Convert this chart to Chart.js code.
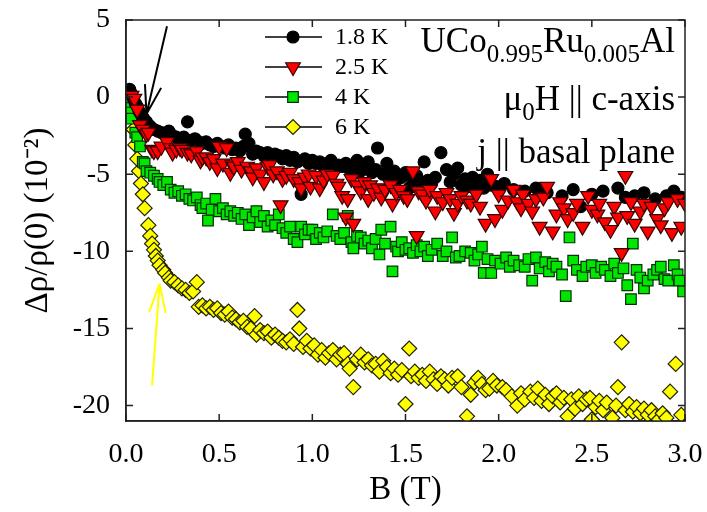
<!DOCTYPE html>
<html>
<head>
<meta charset="utf-8">
<script src="https://cdn.jsdelivr.net/npm/chart.js@4.4.1/dist/chart.umd.min.js"></script>
<style>
  body { margin: 0; background: #fff; }
  #wrap { position: relative; width: 707px; height: 512px; }
  .note {
    position: absolute; right: 32px;
    font-family: "Liberation Serif", "Times New Roman", serif;
    font-size: 35px; line-height: 35px; color: #000; white-space: nowrap;
  }
  .note sub { font-size: 25px; position: relative; top: 10px; vertical-align: baseline; line-height: 0; }
</style>
</head>
<body>
<div id="wrap">
  <canvas id="statsChart" width="707" height="512"></canvas>
  <div class="note" style="top:23px">UCo<sub>0.995</sub>Ru<sub>0.005</sub>Al</div>
  <div class="note" style="top:81px">μ<sub>0</sub>H || c-axis</div>
  <div class="note" style="top:134px">j || basal plane</div>
</div>
<script>
// ===== データ (B [T], Δρ/ρ(0) [10^-2]) =====
const xTicks = [0, 0.5, 1.0, 1.5, 2.0, 2.5, 3.0];
const yTicks = [-20, -15, -10, -5, 0, 5];
const labels = ['1.8 K', '2.5 K', '4 K', '6 K'];

const k18 = [
  [0.00,0.3],[0.01,0.4],[0.02,0.5],[0.03,0.2],[0.04,-0.1],[0.05,-0.4],[0.06,-0.6],[0.07,-0.9],
  [0.08,-1.1],[0.09,-1.3],[0.10,-1.5],[0.11,-1.6],[0.12,-1.8],[0.13,-1.9],[0.15,-2.1],[0.17,-2.2],
  [0.19,-2.3],[0.21,-2.4],[0.23,-2.2],[0.25,-2.5],[0.27,-2.6],[0.29,-2.7],[0.31,-2.6],[0.33,-1.6],
  [0.35,-2.8],[0.37,-2.7],[0.39,-2.9],[0.41,-3.0],[0.43,-2.9],[0.45,-3.1],[0.47,-3.2],[0.49,-3.0],
  [0.51,-3.2],[0.53,-3.3],[0.55,-3.1],[0.57,-3.4],[0.59,-3.3],[0.61,-3.5],[0.63,-3.2],[0.64,-2.4],
  [0.66,-3.0],[0.68,-3.7],[0.70,-3.5],[0.72,-3.6],[0.74,-3.8],[0.76,-3.6],[0.78,-3.9],[0.80,-3.7],
  [0.82,-3.8],[0.84,-4.0],[0.86,-3.8],[0.88,-4.1],[0.90,-3.9],[0.92,-4.2],[0.94,-6.3],[0.96,-4.0],
  [0.98,-4.3],[1.00,-4.1],[1.02,-4.3],[1.04,-4.2],[1.06,-4.5],[1.08,-4.3],[1.10,-4.1],[1.12,-4.6],
  [1.14,-4.4],[1.16,-4.5],[1.18,-4.3],[1.20,-4.7],[1.22,-4.5],[1.24,-4.1],[1.26,-4.8],[1.28,-4.6],
  [1.30,-4.2],[1.32,-4.9],[1.34,-4.7],[1.35,-3.3],[1.38,-5.0],[1.40,-4.3],[1.42,-5.1],[1.44,-4.8],
  [1.46,-5.3],[1.48,-5.2],[1.50,-4.9],[1.52,-5.9],[1.54,-5.3],[1.56,-5.1],[1.58,-5.5],[1.60,-4.2],
  [1.62,-5.4],[1.64,-5.6],[1.66,-5.2],[1.69,-3.6],[1.72,-4.7],[1.74,-5.5],[1.76,-5.0],[1.78,-4.6],
  [1.80,-5.7],[1.82,-5.3],[1.84,-5.8],[1.86,-5.2],[1.88,-5.6],[1.90,-5.4],[1.92,-5.9],[1.94,-5.0],
  [1.96,-5.7],[1.99,-5.8],[2.03,-5.6],[2.08,-6.0],[2.14,-6.1],[2.20,-5.9],[2.26,-6.2],[2.34,-6.4],
  [2.40,-6.0],[2.44,-7.1],[2.50,-6.3],[2.56,-6.1],[2.64,-5.9],[2.68,-6.5],[2.73,-6.4],[2.78,-6.2],
  [2.84,-6.6],[2.90,-6.4],[2.94,-6.1],[2.98,-6.5]
];

const k25 = [
  [0.03,0.1],[0.045,-0.1],[0.06,-0.8],[0.075,-1.8],[0.09,-2.1],[0.11,-2.4],[0.12,-2.3],[0.14,-3.4],
  [0.15,-3.5],[0.17,-3.5],[0.19,-3.2],[0.22,-2.9],[0.24,-3.3],[0.25,-3.6],[0.27,-3.4],[0.29,-3.3],
  [0.30,-3.4],[0.33,-3.6],[0.35,-3.7],[0.38,-3.5],[0.40,-4.1],[0.41,-3.9],[0.43,-3.9],[0.45,-4.2],
  [0.47,-4.0],[0.49,-4.6],[0.50,-3.2],[0.52,-4.3],[0.54,-3.3],[0.56,-4.9],[0.57,-4.4],[0.58,-4.5],
  [0.60,-4.2],[0.62,-4.7],[0.65,-4.5],[0.67,-4.8],[0.68,-5.2],[0.70,-4.6],[0.72,-5.0],[0.74,-5.5],
  [0.76,-4.5],[0.77,-4.4],[0.79,-5.0],[0.81,-4.8],[0.83,-7.0],[0.84,-5.3],[0.86,-5.1],[0.88,-4.9],
  [0.90,-5.3],[0.93,-5.5],[0.94,-5.9],[0.96,-5.2],[0.98,-5.0],[0.99,-5.8],[1.02,-5.1],[1.04,-5.9],
  [1.06,-5.4],[1.08,-5.0],[1.11,-5.1],[1.13,-5.6],[1.14,-5.8],[1.16,-6.4],[1.18,-7.8],[1.19,-6.6],
  [1.21,-5.3],[1.22,-8.2],[1.24,-5.7],[1.26,-6.1],[1.28,-5.5],[1.30,-6.6],[1.31,-5.7],[1.33,-6.2],
  [1.35,-5.9],[1.37,-6.5],[1.39,-6.0],[1.42,-5.7],[1.43,-6.9],[1.45,-6.2],[1.47,-6.0],[1.49,-6.4],
  [1.51,-6.6],[1.54,-4.8],[1.56,-9.0],[1.57,-6.1],[1.59,-6.3],[1.61,-6.7],[1.63,-6.0],[1.66,-7.4],
  [1.67,-6.4],[1.70,-6.8],[1.72,-6.2],[1.74,-6.6],[1.76,-7.5],[1.78,-6.9],[1.80,-6.4],[1.83,-6.7],
  [1.85,-6.9],[1.88,-6.3],[1.90,-7.1],[1.93,-8.2],[1.96,-5.3],[1.98,-7.9],[2.00,-6.3],[2.02,-7.3],
  [2.05,-6.7],[2.08,-6.0],[2.10,-6.8],[2.12,-7.2],[2.13,-6.3],[2.16,-6.9],[2.18,-7.4],[2.20,-6.6],
  [2.22,-8.4],[2.24,-6.5],[2.26,-5.8],[2.29,-8.7],[2.31,-7.6],[2.33,-6.8],[2.35,-7.2],[2.37,-7.9],
  [2.40,-7.5],[2.42,-6.9],[2.45,-8.4],[2.48,-6.4],[2.50,-7.3],[2.53,-7.6],[2.54,-6.9],[2.57,-8.1],
  [2.60,-8.6],[2.62,-7.1],[2.64,-7.8],[2.66,-10.1],[2.68,-5.1],[2.69,-7.7],[2.71,-6.8],[2.73,-8.2],
  [2.76,-7.4],[2.78,-6.9],[2.80,-8.7],[2.82,-7.1],[2.85,-7.9],[2.87,-8.3],[2.89,-7.2],[2.91,-6.8],
  [2.93,-8.8],[2.96,-6.6],[2.98,-8.4],[3.00,-6.9]
];

const k4 = [
  [0.00,-0.3],[0.01,-0.7],[0.02,-1.0],[0.03,-1.4],[0.05,-2.3],[0.06,-2.6],[0.075,-3.2],[0.09,-4.2],
  [0.10,-4.3],[0.11,-4.8],[0.13,-4.9],[0.15,-5.1],[0.17,-5.3],[0.18,-5.5],[0.20,-5.7],[0.22,-5.5],
  [0.24,-6.0],[0.26,-6.2],[0.28,-6.1],[0.30,-6.4],[0.32,-6.3],[0.34,-6.6],[0.36,-6.7],[0.38,-6.5],
  [0.40,-7.0],[0.41,-7.2],[0.43,-6.9],[0.44,-8.0],[0.46,-7.3],[0.48,-6.6],[0.50,-7.4],[0.52,-7.2],
  [0.54,-7.6],[0.56,-7.4],[0.58,-7.7],[0.60,-7.5],[0.62,-7.9],[0.64,-7.6],[0.66,-8.3],[0.68,-7.8],
  [0.70,-7.4],[0.72,-8.1],[0.74,-7.7],[0.76,-8.4],[0.78,-8.0],[0.80,-8.3],[0.82,-7.6],[0.84,-8.5],
  [0.86,-8.8],[0.88,-8.4],[0.90,-9.2],[0.92,-9.4],[0.94,-8.4],[0.96,-8.9],[0.98,-8.6],[1.00,-8.6],
  [1.02,-9.2],[1.04,-8.8],[1.06,-9.1],[1.08,-8.7],[1.11,-7.6],[1.13,-9.0],[1.15,-9.2],[1.17,-8.8],
  [1.19,-7.7],[1.21,-9.4],[1.22,-9.8],[1.24,-9.0],[1.26,-9.1],[1.28,-9.5],[1.30,-9.3],[1.32,-9.8],
  [1.34,-9.2],[1.36,-10.2],[1.37,-8.6],[1.39,-9.5],[1.42,-8.4],[1.43,-11.3],[1.45,-9.7],[1.46,-10.0],
  [1.48,-9.4],[1.50,-9.9],[1.52,-9.8],[1.54,-10.1],[1.56,-9.6],[1.58,-10.0],[1.60,-9.7],[1.62,-10.3],
  [1.64,-9.9],[1.67,-9.5],[1.70,-10.3],[1.72,-10.0],[1.75,-9.1],[1.77,-10.4],[1.79,-10.3],[1.82,-10.0],
  [1.85,-10.1],[1.87,-10.6],[1.89,-10.2],[1.91,-9.7],[1.92,-11.4],[1.94,-10.5],[1.96,-11.4],[1.98,-10.6],
  [2.01,-10.8],[2.04,-10.4],[2.06,-11.0],[2.08,-10.6],[2.11,-10.9],[2.14,-11.0],[2.16,-10.5],[2.18,-11.9],
  [2.20,-10.4],[2.22,-11.1],[2.25,-10.7],[2.27,-11.3],[2.29,-10.8],[2.31,-11.0],[2.34,-11.5],[2.36,-12.9],
  [2.38,-9.1],[2.40,-10.6],[2.42,-11.2],[2.45,-11.6],[2.47,-11.0],[2.50,-10.9],[2.52,-11.4],[2.55,-11.0],
  [2.57,-11.2],[2.60,-11.6],[2.62,-10.8],[2.64,-11.4],[2.67,-11.1],[2.69,-12.2],[2.71,-13.1],[2.72,-9.5],
  [2.74,-11.2],[2.76,-11.7],[2.78,-12.4],[2.80,-11.9],[2.83,-11.5],[2.85,-11.2],[2.87,-11.0],[2.89,-11.8],
  [2.91,-11.9],[2.94,-10.9],[2.96,-11.5],[2.97,-11.9],[2.99,-12.6]
];

const k6 = [
  [0.00,0.1],[0.01,-0.2],[0.02,-0.6],[0.03,-1.3],[0.04,-2.1],[0.05,-3.1],[0.06,-4.0],[0.07,-4.8],
  [0.08,-5.6],[0.09,-6.3],[0.10,-7.2],[0.12,-8.3],[0.13,-9.0],[0.14,-9.5],[0.15,-9.9],[0.16,-10.3],
  [0.17,-10.6],[0.18,-10.9],[0.20,-11.2],[0.21,-11.4],[0.23,-11.7],[0.24,-11.9],[0.26,-12.0],[0.28,-12.2],
  [0.30,-12.4],[0.32,-12.5],[0.34,-12.7],[0.36,-12.6],[0.38,-12.0],[0.39,-13.6],[0.41,-13.5],[0.43,-13.7],
  [0.45,-13.6],[0.47,-13.8],[0.49,-13.7],[0.51,-14.0],[0.53,-14.1],[0.55,-13.9],[0.57,-14.3],[0.59,-14.4],
  [0.61,-14.6],[0.63,-14.5],[0.65,-14.9],[0.67,-15.0],[0.69,-14.2],[0.70,-15.4],[0.72,-15.1],[0.74,-15.3],
  [0.76,-15.2],[0.78,-15.6],[0.80,-15.4],[0.82,-15.6],[0.84,-15.8],[0.86,-15.9],[0.88,-15.7],[0.90,-16.0],
  [0.92,-13.8],[0.93,-15.0],[0.95,-16.2],[0.97,-15.8],[0.99,-16.3],[1.01,-16.1],[1.03,-16.7],[1.05,-16.4],
  [1.07,-16.9],[1.09,-16.6],[1.11,-16.4],[1.13,-17.0],[1.15,-16.7],[1.17,-16.6],[1.19,-17.3],[1.20,-17.6],
  [1.22,-18.8],[1.24,-17.0],[1.26,-16.7],[1.28,-17.2],[1.30,-17.0],[1.32,-17.4],[1.34,-17.3],[1.36,-17.8],
  [1.38,-17.1],[1.40,-17.5],[1.42,-17.9],[1.44,-17.6],[1.46,-18.0],[1.48,-17.7],[1.50,-19.9],[1.52,-16.3],
  [1.53,-18.1],[1.55,-17.8],[1.57,-18.2],[1.59,-18.0],[1.61,-18.4],[1.63,-17.8],[1.65,-18.3],[1.67,-18.6],
  [1.69,-18.1],[1.71,-18.3],[1.73,-18.7],[1.75,-18.2],[1.78,-18.1],[1.80,-18.8],[1.83,-20.7],[1.85,-19.3],
  [1.87,-18.5],[1.89,-18.2],[1.91,-18.6],[1.93,-19.0],[1.95,-18.9],[1.97,-18.4],[1.99,-18.7],[2.02,-18.8],
  [2.04,-19.0],[2.07,-19.4],[2.10,-20.0],[2.12,-19.2],[2.14,-19.6],[2.17,-19.1],[2.19,-19.5],[2.21,-18.9],
  [2.23,-19.7],[2.25,-19.3],[2.27,-19.9],[2.29,-19.4],[2.31,-19.2],[2.33,-19.8],[2.35,-19.5],[2.37,-20.7],
  [2.39,-19.6],[2.41,-20.2],[2.43,-19.4],[2.45,-19.9],[2.47,-19.6],[2.49,-19.5],[2.50,-20.9],[2.52,-20.1],
  [2.54,-19.7],[2.56,-20.3],[2.58,-19.8],[2.61,-20.8],[2.63,-20.0],[2.64,-18.8],[2.66,-15.9],[2.68,-20.3],
  [2.70,-19.9],[2.72,-20.4],[2.74,-20.1],[2.76,-20.5],[2.78,-20.2],[2.80,-20.6],[2.82,-20.3],[2.84,-20.7],
  [2.86,-20.9],[2.88,-20.5],[2.90,-20.8],[2.92,-19.1],[2.95,-17.3],[2.98,-20.6]
];

// 矢印 (データ座標: 始点 -> 先端)
const arrows = [
  { from: [0.22, 4.6], to: [0.11, -1.1], color: '#000000' },
  { from: [0.14, -18.7], to: [0.18, -12.1], color: '#ffff00' }
];

// ===== 見た目 =====
const styles = [
  { pointStyle: 'circle',   radius: 6,   rotation: 0,   bg: '#000000', border: '#000000' },
  { pointStyle: 'triangle', radius: 8.5, rotation: 180, bg: '#ff0000', border: '#3a0000' },
  { pointStyle: 'rect',     radius: 7.5, rotation: 0,   bg: '#00e600', border: '#003300' },
  { pointStyle: 'rectRot',  radius: 7.5, rotation: 0,   bg: '#ffff00', border: '#222200' }
];
const drawOrder = [1, 0, 2, 3]; // 2.5 K が一番上
const serif = "'Liberation Serif', 'Times New Roman', serif";

Chart.defaults.font.family = serif;
Chart.defaults.color = '#000';

const series = [k18, k25, k4, k6];
const datasets = series.map((pts, i) => ({
  label: labels[i],
  data: pts.map(p => ({ x: p[0], y: p[1] })),
  pointStyle: styles[i].pointStyle,
  pointRotation: styles[i].rotation,
  pointRadius: styles[i].radius,
  pointBackgroundColor: styles[i].bg,
  pointBorderColor: styles[i].border,
  pointBorderWidth: 1.2,
  showLine: false,
  order: drawOrder[i]
}));

function drawArrow(ctx, x0, y0, x1, y1, color) {
  const ang = Math.atan2(y1 - y0, x1 - x0);
  ctx.strokeStyle = color;
  ctx.lineWidth = 2;
  ctx.beginPath();
  ctx.moveTo(x0, y0);
  ctx.lineTo(x1, y1);
  [0.28, -0.28].forEach(d => {
    ctx.moveTo(x1, y1);
    ctx.lineTo(x1 - 30 * Math.cos(ang + d), y1 - 30 * Math.sin(ang + d));
  });
  ctx.stroke();
}

// 枠・内向き目盛り・矢印・凡例
const framePlugin = {
  id: 'frame',
  afterDatasetsDraw(chart) {
    const { ctx, chartArea: a, scales: { x, y } } = chart;
    ctx.save();
    ctx.strokeStyle = '#222';
    ctx.lineWidth = 1.5;
    ctx.strokeRect(a.left, a.top, a.right - a.left, a.bottom - a.top);
    ctx.beginPath();
    xTicks.forEach(v => {
      const px = x.getPixelForValue(v);
      ctx.moveTo(px, a.bottom); ctx.lineTo(px, a.bottom - 7);
      ctx.moveTo(px, a.top); ctx.lineTo(px, a.top + 7);
    });
    yTicks.forEach(v => {
      const py = y.getPixelForValue(v);
      ctx.moveTo(a.left, py); ctx.lineTo(a.left + 7, py);
      ctx.moveTo(a.right, py); ctx.lineTo(a.right - 7, py);
    });
    ctx.stroke();

    arrows.forEach(ar => {
      drawArrow(ctx,
        x.getPixelForValue(ar.from[0]), y.getPixelForValue(ar.from[1]),
        x.getPixelForValue(ar.to[0]), y.getPixelForValue(ar.to[1]), ar.color);
    });

    // 凡例
    labels.forEach((lab, i) => {
      const yy = 37 + i * 30;
      const st = styles[i];
      ctx.strokeStyle = '#000';
      ctx.lineWidth = 1.5;
      ctx.beginPath();
      ctx.moveTo(265, yy);
      ctx.lineTo(322, yy);
      ctx.stroke();
      ctx.fillStyle = st.bg;
      ctx.strokeStyle = st.border;
      ctx.lineWidth = 1.2;
      Chart.helpers.drawPoint(ctx, {
        pointStyle: st.pointStyle, rotation: st.rotation, radius: st.radius, borderWidth: 1.2
      }, 293, yy);
      ctx.fillStyle = '#000';
      ctx.font = '24px ' + serif;
      ctx.textBaseline = 'middle';
      ctx.textAlign = 'left';
      ctx.fillText(lab, 335, yy + 1);
    });
    ctx.restore();
  }
};

new Chart(document.getElementById('statsChart'), {
  type: 'scatter',
  data: { datasets },
  options: {
    responsive: false,
    animation: false,
    layout: { padding: { top: 20, right: 22, left: 0, bottom: 0 } },
    plugins: { legend: { display: false }, tooltip: { enabled: false } },
    scales: {
      x: {
        type: 'linear',
        min: 0,
        max: 3.0,
        afterBuildTicks: s => { s.ticks = xTicks.map(v => ({ value: v })); },
        afterFit: s => { s.height = 91; s.paddingLeft = 0; s.paddingRight = 0; },
        grid: { display: false, drawTicks: false },
        border: { display: true, color: '#222', width: 1.5 },
        ticks: { font: { size: 28 }, padding: 17, maxRotation: 0, callback: v => Number(v).toFixed(1) },
        title: { display: true, text: 'B (T)', font: { size: 33 }, padding: { top: 0, bottom: 2 } }
      },
      y: {
        type: 'linear',
        min: -21,
        max: 5,
        afterBuildTicks: s => { s.ticks = yTicks.map(v => ({ value: v })); },
        afterFit: s => { s.width = 126; s.paddingTop = 0; s.paddingBottom = 0; },
        grid: { display: false, drawTicks: false },
        border: { display: true, color: '#222', width: 1.5 },
        ticks: { font: { size: 28 }, padding: 16, callback: v => String(v) },
        title: { display: true, text: 'Δρ/ρ(0) (10⁻²)', font: { size: 33 }, padding: { top: 19, bottom: 0 } }
      }
    }
  },
  plugins: [framePlugin]
});
</script>
</body>
</html>
